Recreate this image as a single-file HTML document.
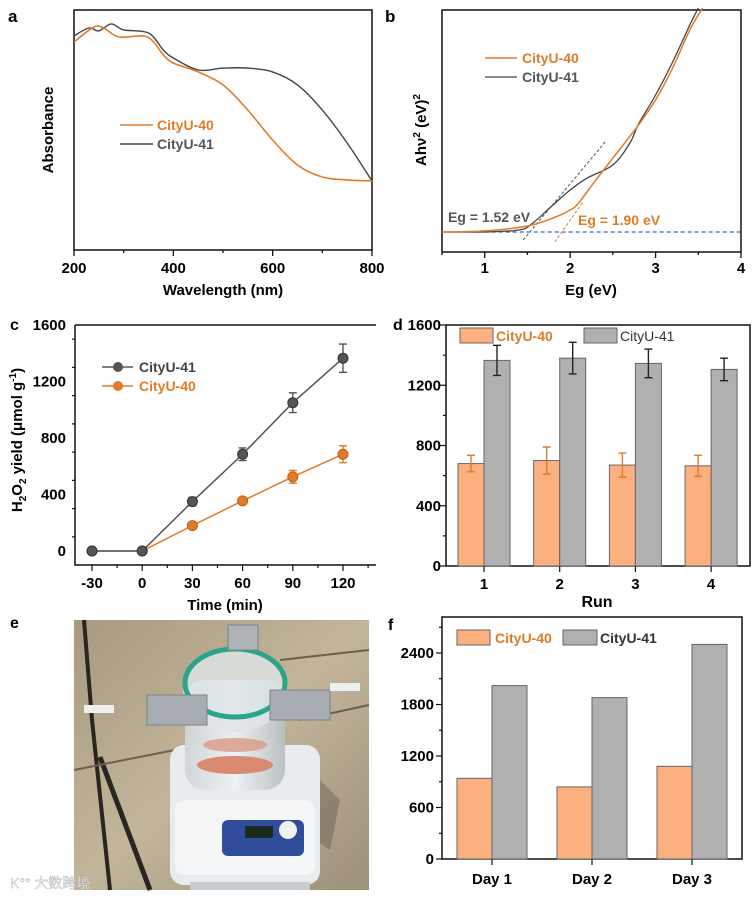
<!DOCTYPE html>
<html><head><meta charset="utf-8"><style>
html,body{margin:0;padding:0;background:#fff;}
svg{display:block;font-family:"Liberation Sans",Arial,sans-serif;}
.b{font-weight:bold;}
.n{font-family:"Liberation Sans Narrow","Liberation Sans",sans-serif;font-weight:bold;}
</style></head><body>
<svg id="fig" width="753" height="899" viewBox="0 0 753 899" xmlns="http://www.w3.org/2000/svg">
<defs>
<linearGradient id="conc" x1="0" y1="0" x2="1" y2="1"><stop offset="0" stop-color="#a89a80"/><stop offset="0.5" stop-color="#c2b59a"/><stop offset="1" stop-color="#9c907a"/></linearGradient>
<linearGradient id="glass" x1="0" y1="0" x2="1" y2="0"><stop offset="0" stop-color="#cfd6d8"/><stop offset="0.5" stop-color="#eef2f3"/><stop offset="1" stop-color="#b7c0c3"/></linearGradient>
</defs>
<g id="pa"></g>
<g id="pb"></g>
<g id="pc"></g>
<g id="pd"></g>
<g id="pe">
 <rect x="74" y="620" width="295" height="270" fill="url(#conc)"/>
 <path d="M84 620 L92 720 L110 890" stroke="#2a2520" stroke-width="4" fill="none"/>
 <path d="M100 757 L150 890" stroke="#2a2520" stroke-width="5" fill="none"/>
 <path d="M74 770 L200 745 M280 660 L369 650 M300 720 L369 705" stroke="#6b6050" stroke-width="2" fill="none"/>
 <path d="M300 760 L340 800 L330 850 L300 830 Z" fill="#7a6e5e" opacity="0.6"/>
 <rect x="170" y="745" width="150" height="140" rx="14" fill="#e8ecef"/>
 <rect x="175" y="800" width="140" height="75" rx="10" fill="#f4f6f8"/>
 <rect x="222" y="820" width="82" height="36" rx="6" fill="#2f4d9a"/>
 <rect x="245" y="826" width="28" height="12" fill="#1b2a1f"/>
 <circle cx="288" cy="830" r="9" fill="#f2f2f2"/>
 <rect x="190" y="882" width="120" height="8" fill="#c9cdd2"/>
 <rect x="185" y="680" width="100" height="110" rx="20" fill="url(#glass)" opacity="0.95"/>
 <ellipse cx="235" cy="765" rx="38" ry="9" fill="#d98a70"/>
 <ellipse cx="235" cy="745" rx="32" ry="7" fill="#d99a85" opacity="0.8"/>
 <ellipse cx="235" cy="690" rx="52" ry="42" fill="#dfe6e7" opacity="0.8"/>
 <ellipse cx="235" cy="683" rx="50" ry="34" fill="none" stroke="#2aa58a" stroke-width="5"/>
 <rect x="147" y="695" width="60" height="30" fill="#a8adb3" stroke="#7d8288"/>
 <rect x="270" y="690" width="60" height="30" fill="#a8adb3" stroke="#7d8288"/>
 <rect x="228" y="625" width="30" height="25" fill="#aeb3b8" stroke="#7d8288"/>
 <rect x="84" y="705" width="30" height="8" fill="#eef0f0"/>
 <rect x="330" y="683" width="30" height="8" fill="#eef0f0"/>
 <text x="10" y="888" font-size="14" fill="#ffffff" stroke="#aaa" stroke-width="0.4" style="font-family:'Liberation Sans','Noto Sans CJK SC',sans-serif">K°° 大数跨境</text>
</g>
<g id="pf"></g>
</svg>
<script>
// ---------- data ----------
const aX40 = [200,240,260,290,340,360,380,400,450,500,550,600,650,700,750,800];
const aY40 = [0.867,0.929,0.925,0.888,0.892,0.867,0.813,0.779,0.742,0.688,0.583,0.458,0.354,0.304,0.292,0.288];
const aX41 = [200,230,250,275,300,350,380,400,450,500,550,600,650,700,750,800];
const aY41 = [0.892,0.925,0.913,0.942,0.917,0.904,0.833,0.8,0.75,0.758,0.758,0.742,0.688,0.583,0.446,0.288];
const aTicks = [200,400,600,800];

const bX41 = [0.5,1.0,1.4,1.55,1.8,2.0,2.2,2.5,2.7,2.8,3.0,3.2,3.4,3.5];
const bY41 = [0,0,0.009,0.036,0.122,0.189,0.243,0.302,0.401,0.486,0.617,0.766,0.932,1.009];
const bX40 = [0.5,1.0,1.5,1.8,2.0,2.1,2.3,2.5,2.8,3.0,3.2,3.4,3.55];
const bY40 = [0,0.005,0.027,0.063,0.099,0.131,0.234,0.333,0.482,0.595,0.739,0.910,1.009];
const bTicks = [1,2,3,4];

const cTimes = [-30,0,30,60,90,120];
const c41 = [0,0,350,685,1050,1365];
const c41err = [0,0,30,45,70,100];
const c40 = [0,0,180,355,525,685];
const c40err = [0,0,20,20,45,60];
const cYTicks = [0,400,800,1200,1600];

const dRuns = ['1','2','3','4'];
const d40 = [680,700,670,665];
const d40err = [55,90,80,70];
const d41 = [1365,1380,1345,1305];
const d41err = [100,105,95,75];
const dYTicks = [0,400,800,1200,1600];

const fDays = ['Day 1','Day 2','Day 3'];
const f40 = [940,840,1080];
const f41 = [2020,1880,2500];
const fYTicks = [0,600,1200,1800,2400];

// ---------- helpers ----------
const NS = 'http://www.w3.org/2000/svg';
function mk(parent, tag, attrs, text){
  const e = document.createElementNS(NS, tag);
  for (const k in attrs) e.setAttribute(k, attrs[k]);
  if (text !== undefined) e.textContent = text;
  parent.appendChild(e);
  return e;
}
function smooth(pts){
  let d = 'M' + pts[0][0].toFixed(1) + ' ' + pts[0][1].toFixed(1);
  for (let i=0;i<pts.length-1;i++){
    const p0=pts[Math.max(0,i-1)],p1=pts[i],p2=pts[i+1],p3=pts[Math.min(pts.length-1,i+2)];
    const c1=[p1[0]+(p2[0]-p0[0])/6,p1[1]+(p2[1]-p0[1])/6];
    const c2=[p2[0]-(p3[0]-p1[0])/6,p2[1]-(p3[1]-p1[1])/6];
    d+=' C'+c1[0].toFixed(1)+' '+c1[1].toFixed(1)+' '+c2[0].toFixed(1)+' '+c2[1].toFixed(1)+' '+p2[0].toFixed(1)+' '+p2[1].toFixed(1);
  }
  return d;
}
const OR='#e07b28', GR='#444444', ORF='#fdb07f', GRF='#b0b0b0';

// ---------- panel a ----------
(function(){
  const g = document.getElementById('pa');
  const X = v => 74 + (v-200)/600*298;
  const Y = v => 250 - v*240;
  const t = mk(g,'text',{x:8,y:22,'font-size':17,class:'b'},'a');
   
  const box = mk(g,'rect',{x:74,y:10,width:298,height:240,fill:'none',stroke:'#111','stroke-width':1.5});
   
  for (let v=200; v<=800; v+=100){
    const tk = mk(g,'line',{x1:X(v),x2:X(v),y1:250,y2:v%200===0?256:253,stroke:'#111','stroke-width':1.3});
     
  }
  aTicks.forEach(v=>{
    const l = mk(g,'text',{x:X(v),y:273,'font-size':15,class:'b','text-anchor':'middle'},String(v));
     
  });
  const xt = mk(g,'text',{x:223,y:295,'font-size':15,class:'b','text-anchor':'middle'},'Wavelength (nm)');
   
  const yt = mk(g,'text',{x:0,y:0,'font-size':15,class:'b','text-anchor':'middle',transform:'translate(53,130) rotate(-90)'},'Absorbance');
   
  const p41 = mk(g,'path',{d:smooth(aX41.map((x,i)=>[X(x),Y(aY41[i])])),fill:'none',stroke:GR,'stroke-width':1.4});
   
  const p40 = mk(g,'path',{d:smooth(aX40.map((x,i)=>[X(x),Y(aY40[i])])),fill:'none',stroke:OR,'stroke-width':1.6});
   
  const l1 = mk(g,'line',{x1:120,x2:153,y1:125,y2:125,stroke:OR,'stroke-width':1.6});
   
  const t1 = mk(g,'text',{x:157,y:130,'font-size':14,class:'b',fill:OR},'CityU-40');
   
  const l2 = mk(g,'line',{x1:120,x2:153,y1:144,y2:144,stroke:GR,'stroke-width':1.4});
   
  const t2 = mk(g,'text',{x:157,y:149,'font-size':14,class:'b',fill:'#555'},'CityU-41');
   
})();

// ---------- panel b ----------
(function(){
  const g = document.getElementById('pb');
  const X = v => 442 + (v-0.5)/3.5*299;
  const Y = v => 232 - v*222;
  const t = mk(g,'text',{x:385,y:22,'font-size':17,class:'b'},'b');
   
  const box = mk(g,'rect',{x:442,y:10,width:299,height:242,fill:'none',stroke:'#111','stroke-width':1.5});
   
  for (let v=0.5; v<=4.01; v+=0.5){
    const tk = mk(g,'line',{x1:X(v),x2:X(v),y1:252,y2:Math.abs(v-Math.round(v))<0.01?258:255,stroke:'#111','stroke-width':1.3});
     
  }
  bTicks.forEach(v=>{
    const l = mk(g,'text',{x:X(v),y:273,'font-size':15,class:'b','text-anchor':'middle'},String(v));
     
  });
  const xt = mk(g,'text',{x:591,y:295,'font-size':15,class:'b','text-anchor':'middle'},'Eg (eV)');
   
  const yt = mk(g,'text',{x:0,y:0,'font-size':15,class:'b','text-anchor':'middle',transform:'translate(426,130) rotate(-90)'});
   
  yt.innerHTML = 'Ahν<tspan dy="-6" font-size="10">2</tspan><tspan dy="6"> (eV)</tspan><tspan dy="-6" font-size="10">2</tspan>';
  const base = mk(g,'line',{x1:X(1.0),x2:741,y1:Y(0),y2:Y(0),stroke:'#2f6fc0','stroke-width':1.2,'stroke-dasharray':'4,3'});
   
  const tg41 = mk(g,'line',{x1:X(1.45),y1:240,x2:X(2.41),y2:142,stroke:'#555','stroke-width':1,'stroke-dasharray':'3,2'});
   
  const tg40 = mk(g,'line',{x1:X(1.82),y1:242,x2:X(2.15),y2:202,stroke:OR,'stroke-width':1,'stroke-dasharray':'3,2'});
   
  const p41 = mk(g,'path',{d:smooth(bX41.map((x,i)=>[X(x),Y(bY41[i])])),fill:'none',stroke:GR,'stroke-width':1.3});
   
  const p40 = mk(g,'path',{d:smooth(bX40.map((x,i)=>[X(x),Y(bY40[i])])),fill:'none',stroke:OR,'stroke-width':1.5});
   
  const e1 = mk(g,'text',{x:448,y:222,'font-size':14,class:'b',fill:'#555'},'Eg = 1.52 eV');
   
  const e2 = mk(g,'text',{x:578,y:225,'font-size':14,class:'b',fill:OR},'Eg = 1.90 eV');
   
  const l1 = mk(g,'line',{x1:485,x2:517,y1:58,y2:58,stroke:OR,'stroke-width':1.5});
   
  const t1 = mk(g,'text',{x:522,y:63,'font-size':14,class:'b',fill:OR},'CityU-40');
   
  const l2 = mk(g,'line',{x1:485,x2:517,y1:77,y2:77,stroke:GR,'stroke-width':1.3});
   
  const t2 = mk(g,'text',{x:522,y:82,'font-size':14,class:'b',fill:'#555'},'CityU-41');
   
})();

// ---------- panel c ----------
(function(){
  const g = document.getElementById('pc');
  const X = v => 92 + (v+30)/150*251;
  const Y = v => 551 - v/1600*226;
  const t = mk(g,'text',{x:10,y:330,'font-size':16,class:'b'},'c');
   
  const ax = mk(g,'path',{d:'M75 325 L376 325 M75 325 L75 565 L376 565',fill:'none',stroke:'#111','stroke-width':1.5});
   
  for (let v=-30; v<=135; v+=15){
    const tk = mk(g,'line',{x1:X(v),x2:X(v),y1:565,y2:v%30===0?571:568,stroke:'#111','stroke-width':1.2});
     
  }
  cTimes.forEach(v=>{
    const l = mk(g,'text',{x:X(v),y:588,'font-size':15,class:'n','text-anchor':'middle'},String(v));
     
  });
  for (let v=-100; v<=1600; v+=200){
    if (v<0) continue;
    const tk = mk(g,'line',{x1:75,x2:v%400===0?69:72,y1:Y(v),y2:Y(v),stroke:'#111','stroke-width':1.2});
     
  }
  cYTicks.forEach(v=>{
    const l = mk(g,'text',{x:66,y:Y(v)+5,'font-size':15,class:'n','text-anchor':'end'},String(v));
     
  });
  const xt = mk(g,'text',{x:225,y:610,'font-size':15,class:'n','text-anchor':'middle'},'Time (min)');
   
  const yt = mk(g,'text',{x:0,y:0,'font-size':15,class:'b','text-anchor':'middle',transform:'translate(22,440) rotate(-90)'});
   
  yt.innerHTML = 'H<tspan dy="4" font-size="10">2</tspan><tspan dy="-4">O</tspan><tspan dy="4" font-size="10">2</tspan><tspan dy="-4"> yield (μmol g</tspan><tspan dy="-6" font-size="10">-1</tspan><tspan dy="6">)</tspan>';
  function series(vals, errs, col, name){
    const ln = mk(g,'polyline',{points:cTimes.map((x,i)=>X(x)+','+Y(vals[i])).join(' '),fill:'none',stroke:col,'stroke-width':1.5});
     
    cTimes.forEach((x,i)=>{
      if (errs[i]>0){
        const eb = mk(g,'path',{d:`M${X(x)} ${Y(vals[i]-errs[i])} L${X(x)} ${Y(vals[i]+errs[i])} M${X(x)-4} ${Y(vals[i]-errs[i])} L${X(x)+4} ${Y(vals[i]-errs[i])} M${X(x)-4} ${Y(vals[i]+errs[i])} L${X(x)+4} ${Y(vals[i]+errs[i])}`,stroke:col,'stroke-width':1.4,fill:'none'});
         
      }
      const pt = mk(g,'circle',{cx:X(x),cy:Y(vals[i]),r:5,fill:col,stroke:col==OR?'#c45f10':'#333','stroke-width':1});
       
    });
  }
  series(c40,c40err,OR,'cityu-40');
  series(c41,c41err,'#555','cityu-41');
  const l1 = mk(g,'line',{x1:102,x2:133,y1:367,y2:367,stroke:'#555','stroke-width':1.5});
   
  const m1 = mk(g,'circle',{cx:118,cy:367,r:5,fill:'#555'});
   
  const t1 = mk(g,'text',{x:139,y:372,'font-size':14,class:'n',fill:'#444'},'CityU-41');
   
  const l2 = mk(g,'line',{x1:102,x2:133,y1:386,y2:386,stroke:OR,'stroke-width':1.5});
   
  const m2 = mk(g,'circle',{cx:118,cy:386,r:5,fill:OR});
   
  const t2 = mk(g,'text',{x:139,y:391,'font-size':14,class:'n',fill:OR},'CityU-40');
   
})();

// ---------- panel d ----------
(function(){
  const g = document.getElementById('pd');
  const X = i => 484 + i*75.7;
  const Y = v => 566 - v/1600*241;
  const t = mk(g,'text',{x:393,y:330,'font-size':16,class:'b'},'d');
   
  const box = mk(g,'rect',{x:446,y:325,width:304,height:241,fill:'none',stroke:'#111','stroke-width':1.5});
   
  for (let v=0; v<=1600; v+=200){
    const tk = mk(g,'line',{x1:446,x2:v%400===0?440:443,y1:Y(v),y2:Y(v),stroke:'#111','stroke-width':1.2});
     
  }
  dYTicks.forEach(v=>{
    const l = mk(g,'text',{x:441,y:Y(v)+5,'font-size':15,class:'n','text-anchor':'end'},String(v));
     
  });
  dRuns.forEach((r,i)=>{
    const tk = mk(g,'line',{x1:X(i),x2:X(i),y1:566,y2:572,stroke:'#111','stroke-width':1.2});
     
    const l = mk(g,'text',{x:X(i),y:589,'font-size':15,class:'n','text-anchor':'middle'},r);
     
    const b1 = mk(g,'rect',{x:X(i)-26,y:Y(d40[i]),width:26,height:Y(0)-Y(d40[i]),fill:ORF,stroke:'#666','stroke-width':1});
     
    const b2 = mk(g,'rect',{x:X(i),y:Y(d41[i]),width:26,height:Y(0)-Y(d41[i]),fill:GRF,stroke:'#666','stroke-width':1});
     
    [[X(i)-13,d40[i],d40err[i],OR,'cityu-40'],[X(i)+13,d41[i],d41err[i],'#222','cityu-41']].forEach(([cx,v,e,c,n])=>{
      const eb = mk(g,'path',{d:`M${cx} ${Y(v-e)} L${cx} ${Y(v+e)} M${cx-4} ${Y(v-e)} L${cx+4} ${Y(v-e)} M${cx-4} ${Y(v+e)} L${cx+4} ${Y(v+e)}`,stroke:c,'stroke-width':1.4,fill:'none'});
       
    });
  });
  const xt = mk(g,'text',{x:597,y:607,'font-size':16,class:'n','text-anchor':'middle'},'Run');
   
  const lb1 = mk(g,'rect',{x:460,y:328,width:33,height:15,fill:ORF,stroke:'#666'});
   
  const lt1 = mk(g,'text',{x:496,y:341,'font-size':14,class:'n',fill:OR},'CityU-40');
   
  const lb2 = mk(g,'rect',{x:584,y:328,width:33,height:15,fill:GRF,stroke:'#666'});
   
  const lt2 = mk(g,'text',{x:620,y:341,'font-size':14,'font-family':'Liberation Sans Narrow, Liberation Sans, sans-serif',fill:'#333'},'CityU-41');
   
})();

// ---------- panel e label ----------
(function(){
  const g = document.getElementById('pe');
  const t = mk(g,'text',{x:10,y:628,'font-size':16,class:'b'},'e');
   
})();

// ---------- panel f ----------
(function(){
  const g = document.getElementById('pf');
  const X = i => 492 + i*100;
  const Y = v => 859 - v/2400*206;
  const t = mk(g,'text',{x:388,y:630,'font-size':16,class:'b'},'f');
   
  const box = mk(g,'rect',{x:442,y:617,width:300,height:242,fill:'none',stroke:'#111','stroke-width':1.5});
   
  for (let v=0; v<=2700; v+=300){
    const tk = mk(g,'line',{x1:442,x2:v%600===0?436:439,y1:Y(v),y2:Y(v),stroke:'#111','stroke-width':1.2});
     
  }
  fYTicks.forEach(v=>{
    const l = mk(g,'text',{x:434,y:Y(v)+5,'font-size':15,class:'b','text-anchor':'end'},String(v));
     
  });
  fDays.forEach((d,i)=>{
    const tk = mk(g,'line',{x1:X(i),x2:X(i),y1:859,y2:865,stroke:'#111','stroke-width':1.2});
     
    const l = mk(g,'text',{x:X(i),y:884,'font-size':15,class:'b','text-anchor':'middle'},d);
     
    const b1 = mk(g,'rect',{x:X(i)-35,y:Y(f40[i]),width:35,height:Y(0)-Y(f40[i]),fill:ORF,stroke:'#666','stroke-width':1});
     
    const b2 = mk(g,'rect',{x:X(i),y:Y(f41[i]),width:35,height:Y(0)-Y(f41[i]),fill:GRF,stroke:'#666','stroke-width':1});
     
  });
  const lb1 = mk(g,'rect',{x:457,y:630,width:33,height:15,fill:ORF,stroke:'#666'});
   
  const lt1 = mk(g,'text',{x:495,y:643,'font-size':14,class:'b',fill:OR},'CityU-40');
   
  const lb2 = mk(g,'rect',{x:563,y:630,width:34,height:15,fill:GRF,stroke:'#666'});
   
  const lt2 = mk(g,'text',{x:600,y:643,'font-size':14,class:'b',fill:'#333'},'CityU-41');
   
})();
</script>
</body></html>
